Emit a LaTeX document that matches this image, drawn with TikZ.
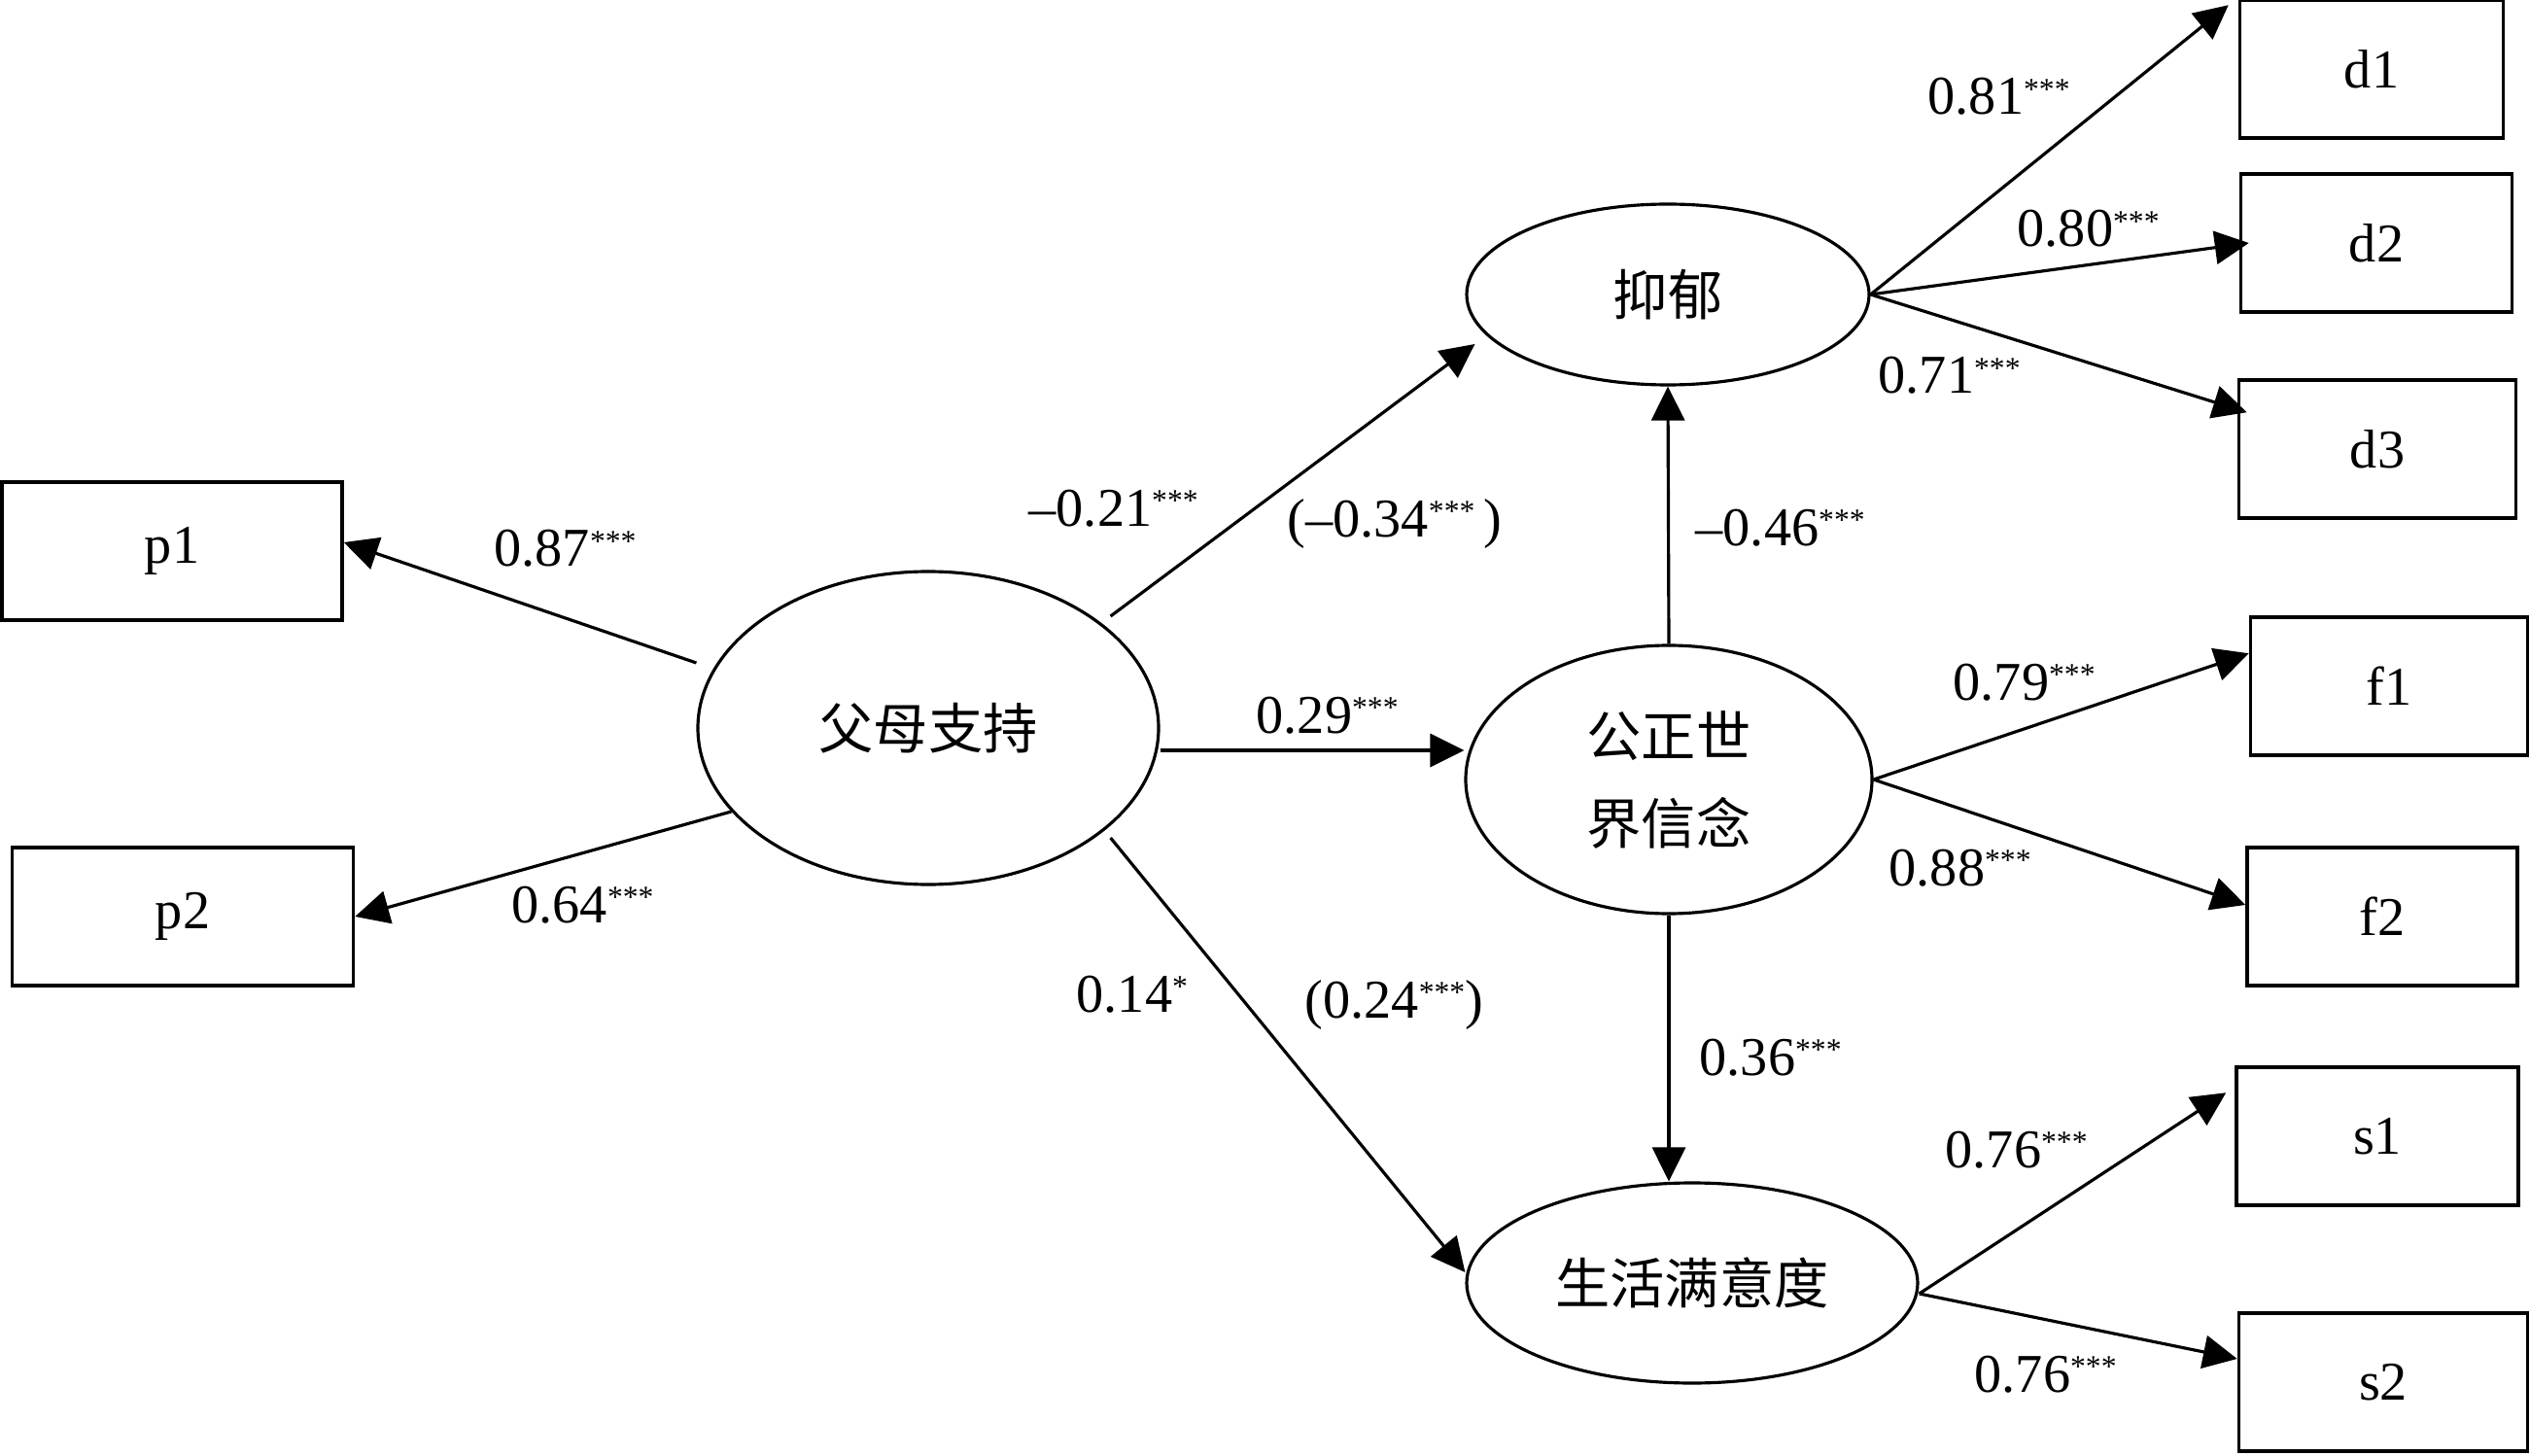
\documentclass[tikz,border=0pt]{standalone}
\usepackage{fontspec}
\setmainfont{Liberation Serif}
\newfontfamily\cjk{Noto Sans CJK SC}
\usetikzlibrary{shapes.geometric,arrows.meta,positioning,calc}
\newcommand{\stars}[1]{\raisebox{4.5pt}{\fontsize{9}{9}\selectfont #1}}

\begin{document}
\begin{tikzpicture}[
  obs/.style={rectangle, draw, line width=1pt, minimum width=#1, minimum height=1.42cm, inner sep=0pt, font=\fontsize{16}{19}\selectfont},
  obs/.default=2.85cm,
  lat/.style={ellipse, draw, line width=0.9pt, inner sep=0pt, align=center, font=\cjk\fontsize{16}{25.6}\selectfont},
  arr/.style={-{Triangle[length=3.5mm,width=3.4mm]}, line width=0.9pt},
  lab/.style={anchor=base west, inner sep=0pt, font=\fontsize{16}{19}\selectfont}
]
  \useasboundingbox (0,0) rectangle (26.03,14.97);

  \node[obs=3.50cm] (p1) at (1.77,9.30)  {p1};
  \node[obs=3.51cm] (p2) at (1.88,5.54)  {p2};
  \node[obs=2.71cm] (d1) at (24.40,14.26) {d1};
  \node[obs=2.79cm] (d2) at (24.45,12.47) {d2};
  \node[obs]        (d3) at (24.46,10.35) {d3};
  \node[obs]        (f1) at (24.58,7.91)  {f1};
  \node[obs=2.78cm] (f2) at (24.51,5.54)  {f2};
  \node[obs=2.90cm] (s1) at (24.46,3.28)  {s1};
  \node[obs=2.97cm] (s2) at (24.52,0.75)  {s2};

  \node[lat, minimum width=4.74cm, minimum height=3.22cm] (par) at (9.55,7.48)  {父母支持};
  \node[lat, minimum width=4.14cm, minimum height=1.86cm] (dep) at (17.16,11.94) {抑郁};
  \node[lat, minimum width=4.18cm, minimum height=2.76cm] (jw)  at (17.17,6.95)  {公正世\\界信念};
  \node[lat, minimum width=4.64cm, minimum height=2.06cm] (sat) at (17.41,1.77)  {生活满意度};

  \coordinate (m) at ([yshift=-0.23cm]par.east);

  \draw[arr] ([yshift=0.67cm]par.west) -- ([yshift=0.09cm]p1.east);
  \draw[arr] (par.203) -- (p2.east);
  \draw[arr] ([xshift=-0.51cm,yshift=1.15cm]par.east) -- ([xshift=0.1cm,yshift=-0.51cm]dep.west);
  \draw[arr] (m) -- (m -| jw.west);
  \draw[arr] ([xshift=-0.51cm,yshift=-1.13cm]par.east) -- ([yshift=0.11cm]sat.west);
  \draw[arr] (jw.north) -- (dep.south);
  \draw[arr] (jw.south) -- (jw.south |- sat.north);
  \draw[arr] (dep.east) -- ([xshift=-0.1cm,yshift=-0.07cm]d1.north west);
  \draw[arr] (dep.east) -- ([xshift=0.1cm]d2.west);
  \draw[arr] (dep.east) -- ([xshift=0.1cm,yshift=-0.35cm]d3.north west);
  \draw[arr] (jw.east) -- ([yshift=-0.39cm]f1.north west);
  \draw[arr] (jw.east) -- ([yshift=0.12cm]f2.west);
  \draw[arr] ([yshift=-0.11cm]sat.east) -- ([xshift=-0.09cm,yshift=-0.28cm]s1.north west);
  \draw[arr] ([yshift=-0.11cm]sat.east) -- ([yshift=0.24cm]s2.west);

  \node[lab] (l87) at (5.08,9.14)   {0.87\stars{***}};
  \node[lab] (l64) at (5.26,5.48)   {0.64\stars{***}};
  \node[lab] (l21) at (10.58,9.56)  {\textendash0.21\stars{***}};
  \node[lab] (l34) at (13.24,9.45)  {(\textendash0.34\stars{***}\,)};
  \node[lab] (l29) at (12.92,7.43)  {0.29\stars{***}};
  \node[lab] (l14) at (11.07,4.56)  {0.14\stars{*}};
  \node[lab] (l24) at (13.42,4.50)  {(0.24\stars{***})};
  \node[lab] (l46) at (17.44,9.36)  {\textendash0.46\stars{***}};
  \node[lab] (l81) at (19.83,13.79) {0.81\stars{***}};
  \node[lab] (l80) at (20.75,12.43) {0.80\stars{***}};
  \node[lab] (l71) at (19.32,10.92) {0.71\stars{***}};
  \node[lab] (l79) at (20.09,7.77)  {0.79\stars{***}};
  \node[lab] (l88) at (19.43,5.86)  {0.88\stars{***}};
  \node[lab] (l36) at (17.48,3.91)  {0.36\stars{***}};
  \node[lab] (l76a) at (20.01,2.96) {0.76\stars{***}};
  \node[lab] (l76b) at (20.31,0.65) {0.76\stars{***}};
\end{tikzpicture}
\end{document}
